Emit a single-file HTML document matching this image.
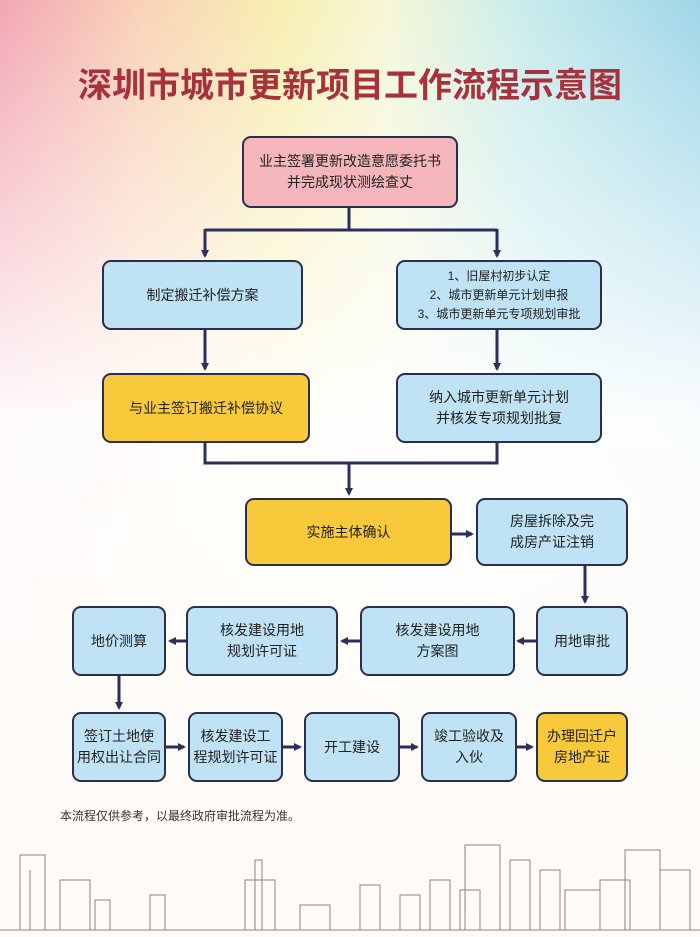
<!DOCTYPE html>
<html><head><meta charset="utf-8"><style>
body{margin:0;width:700px;height:937px;overflow:hidden;font-family:"Liberation Sans","Noto Sans CJK SC",sans-serif;
background:linear-gradient(180deg,rgba(255,255,255,0) 0%,rgba(255,255,255,0.95) 45%,rgba(255,250,245,1) 100%),linear-gradient(90deg,#f2a7b5 0%,#f9d2b8 20%,#f7efb0 40%,#f6f7d8 55%,#c9ecec 75%,#9fd6e8 100%);position:relative}
.t{position:absolute;left:0;width:700px;top:58px;text-align:center;font-size:34px;font-weight:bold;color:#a8323c;font-family:"Noto Sans CJK SC",sans-serif}
.b{position:absolute;box-sizing:border-box;border:2px solid #2a2f4e;border-radius:9px;background:#bfe2f5;display:flex;align-items:center;justify-content:center;text-align:center;font-size:14px;line-height:21px;color:#222}
.y{background:#f8c93a}
.p{background:#f4b6ba}
.n{position:absolute;left:60px;top:807px;font-size:12px;color:#333}
</style></head><body>
<div class="t">深圳市城市更新项目工作流程示意图</div>
<svg width="700" height="937" style="position:absolute;left:0;top:0">
<defs><marker id="a" markerWidth="8" markerHeight="8" refX="6" refY="4" orient="auto" markerUnits="userSpaceOnUse"><path d="M0,0L8,4L0,8z" fill="#2a2f5e"/></marker></defs>
<g stroke="#2a2f5e" stroke-width="3" fill="none">
<path d="M349 208V230M205 230H497"/>
<path d="M205 229V256" marker-end="url(#a)"/><path d="M497 229V256" marker-end="url(#a)"/>
<path d="M205 330V369" marker-end="url(#a)"/><path d="M497 330V369" marker-end="url(#a)"/>
<path d="M205 443V463H497V443M349 463V493" /><path d="M349 463V494" marker-end="url(#a)"/>
<path d="M452 534H472" marker-end="url(#a)"/>
<path d="M585 566V602" marker-end="url(#a)"/>
<path d="M536 641H518" marker-end="url(#a)"/>
<path d="M360 641H342" marker-end="url(#a)"/>
<path d="M186 641H170" marker-end="url(#a)"/>
<path d="M119 676V708" marker-end="url(#a)"/>
<path d="M166 747H184" marker-end="url(#a)"/>
<path d="M283 747H300" marker-end="url(#a)"/>
<path d="M400 747H417" marker-end="url(#a)"/>
<path d="M517 747H532" marker-end="url(#a)"/>
</g>
<g stroke="#555" stroke-width="1" fill="none" opacity="0.7">
<path d="M0 930H700"/>
<path d="M20 930V855H45V930M30 930V870M60 930V880H90V930M95 930V900H110V930M150 930V895H165V930M255 930V860H262V930M245 930V880H275V930M300 930V905H330V930M360 930V885H380V930M400 930V895H420V930M430 930V880H450V930M460 930V890H480V930M465 930V845H500V930M510 930V860H530V930M540 930V870H560V930M565 930V890H600V930M600 930V880H630V930M625 930V850H660V930M660 930V870H690V930"/>
</g>
</svg>
<div class="b p" style="left:242px;top:136px;width:216px;height:72px">业主签署更新改造意愿委托书<br>并完成现状测绘查丈</div>
<div class="b" style="left:102px;top:260px;width:201px;height:70px">制定搬迁补偿方案</div>
<div class="b" style="left:396px;top:260px;width:206px;height:70px;font-size:12px;line-height:19px">1、旧屋村初步认定<br>2、城市更新单元计划申报<br>3、城市更新单元专项规划审批</div>
<div class="b y" style="left:102px;top:373px;width:208px;height:70px">与业主签订搬迁补偿协议</div>
<div class="b" style="left:396px;top:373px;width:206px;height:70px">纳入城市更新单元计划<br>并核发专项规划批复</div>
<div class="b y" style="left:245px;top:498px;width:207px;height:68px">实施主体确认</div>
<div class="b" style="left:476px;top:498px;width:152px;height:68px">房屋拆除及完<br>成房产证注销</div>
<div class="b" style="left:536px;top:606px;width:92px;height:70px">用地审批</div>
<div class="b" style="left:360px;top:606px;width:155px;height:70px">核发建设用地<br>方案图</div>
<div class="b" style="left:186px;top:606px;width:152px;height:70px">核发建设用地<br>规划许可证</div>
<div class="b" style="left:72px;top:606px;width:94px;height:70px">地价测算</div>
<div class="b" style="left:72px;top:712px;width:94px;height:70px">签订土地使<br>用权出让合同</div>
<div class="b" style="left:188px;top:712px;width:95px;height:70px">核发建设工<br>程规划许可证</div>
<div class="b" style="left:304px;top:712px;width:96px;height:70px">开工建设</div>
<div class="b" style="left:421px;top:712px;width:96px;height:70px">竣工验收及<br>入伙</div>
<div class="b y" style="left:536px;top:712px;width:92px;height:70px">办理回迁户<br>房地产证</div>
<div class="n">本流程仅供参考，以最终政府审批流程为准。</div>
</body></html>
